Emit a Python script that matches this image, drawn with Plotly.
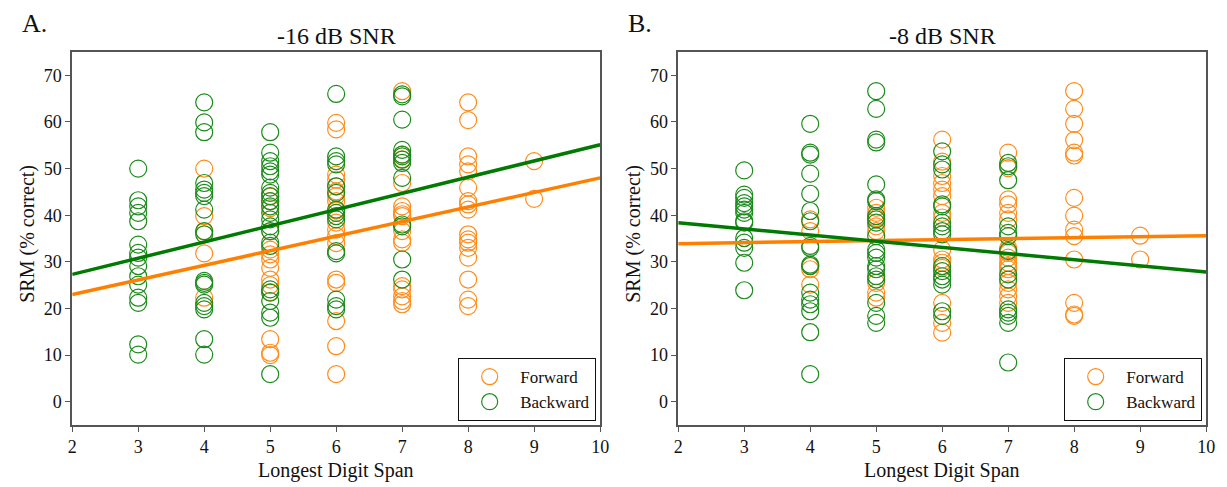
import plotly.graph_objects as go

# ---------------- data ----------------
# Panel A (-16 dB SNR): SRM values per longest digit span
A_forward = {
    4: [50, 39.8, 36.5, 31.8, 22.3],
    5: [44, 43, 41.5, 36.5, 32.6, 31.6, 30.5, 28.7, 26.2, 25, 23.5, 13.4, 10.5, 10],
    6: [59.8, 58.4, 48.7, 47.6, 46.2, 45.1, 44.1, 43, 41, 38.4, 36.9, 35.5, 34, 26.2, 25.5, 17.3, 11.9, 5.9],
    7: [66.6, 53, 52, 46.9, 41.9, 40.9, 40.2, 39.8, 36.6, 34.8, 34.1, 24.8, 24.1, 22.6, 21.6, 20.9],
    8: [64.2, 60.4, 52.6, 50.9, 49.4, 45.9, 43, 42.3, 41.2, 35.9, 34.8, 34.1, 33, 30.9, 26.2, 21.9, 20.5],
    9: [51.6, 43.5],
}
A_backward = {
    3: [50, 43.2, 41.9, 40.5, 38.7, 33.7, 31.9, 30.9, 29.1, 26.9, 25.1, 22.3, 21.2, 12.3, 10.1],
    4: [64.2, 59.9, 57.8, 46.9, 45.5, 44.8, 44.1, 41.2, 36.6, 35.9, 25.9, 25.5, 25.1, 21.2, 20.5, 19.8, 13.4, 10.1],
    5: [57.8, 53.4, 51.6, 50.5, 49.4, 48.7, 45.9, 44.8, 44.1, 43, 41.9, 40.5, 39.1, 37.6, 36.6, 34.1, 33.4,
        24.1, 23.4, 21.6, 19.1, 18, 5.9],
    6: [66, 52.6, 51.6, 50.9, 46.2, 44.8, 41.2, 40.5, 39.8, 39.1, 32.3, 31.8, 21.9, 20.5, 19.8],
    7: [65.9, 65.5, 60.5, 54, 53, 52.6, 51.9, 51.2, 48, 38, 37.6, 30.5, 26.2],
}
# Panel B (-8 dB SNR)
B_forward = {
    4: [39.1, 36.6, 29.1, 28.4, 25.1],
    5: [41.6, 40.5, 39.4, 37.6, 36.6, 25.5, 23.4, 22.3],
    6: [56.2, 51.5, 48.4, 46.9, 45.5, 44.1, 40.5, 39.5, 32.6, 30.5, 29.8, 28.7, 21.2, 16.9, 14.8],
    7: [53.4, 50.1, 43.4, 42.3, 40.5, 39.1, 33, 32.5, 31.9, 30.9, 29.8, 29.1, 28.4, 25.5, 24.1, 22.6, 21.2],
    8: [66.6, 62.8, 59.6, 56.1, 53.4, 52.8, 43.7, 39.9, 36.9, 35.5, 30.5, 21.2, 18.7, 18.4],
    9: [35.6, 30.5],
}
B_backward = {
    3: [49.6, 44.4, 43.7, 42.6, 41.9, 41.2, 40.5, 38.7, 38.4, 35.1, 34.1, 33, 29.8, 23.9],
    4: [59.6, 53.4, 53, 48.9, 44.6, 40.9, 38.7, 33.4, 33, 29.4, 29.1, 23.4, 21.9, 20.9, 19.4, 14.9, 5.9],
    5: [66.6, 62.8, 56.2, 55.6, 46.6, 43.4, 43, 39.8, 39.1, 38.4, 35.5, 32.6, 31.9, 30.9, 29.1, 28.4,
        26.9, 26.2, 21.2, 18.4, 16.9],
    6: [53.7, 50.9, 49.8, 42.3, 41.9, 38.4, 37.6, 36.6, 35.9, 29.1, 28, 26.9, 26.2, 25.1, 19.4, 18.4],
    7: [51.2, 50.5, 47.5, 37.6, 36.2, 35.5, 32.3, 27.3, 26.2, 19.8, 19.1, 18.4, 16.9, 8.4],
}

# regression lines (values at span 2 and span 10)
fit_x = [2, 10]
A_forward_fit = [23.0, 48.0]
A_backward_fit = [27.3, 55.1]
B_forward_fit = [33.9, 35.6]
B_backward_fit = [38.4, 27.8]

panel_titles = ["-16 dB SNR", "-8 dB SNR"]
panel_letters = ["A.", "B."]
x_ticks = [2, 3, 4, 5, 6, 7, 8, 9, 10]
y_ticks = [0, 10, 20, 30, 40, 50, 60, 70]

# ---------------- styles ----------------
ORANGE_M = "#FF8C1A"
GREEN_M = "#1A8A1A"
ORANGE_L = "#FF8000"
GREEN_L = "#007A00"
FONT = "Times New Roman, Liberation Serif, Times, serif"
W, H = 1227, 487


def flatten(d):
    xs, ys = [], []
    for k, vals in d.items():
        xs += [k] * len(vals)
        ys += vals
    return xs, ys


fig = go.Figure()

panels = [
    ("x", "y", "legend", A_forward, A_backward, A_forward_fit, A_backward_fit),
    ("x2", "y2", "legend2", B_forward, B_backward, B_forward_fit, B_backward_fit),
]
for xa, ya, leg, fwd, bwd, ffit, bfit in panels:
    fx, fy = flatten(fwd)
    bx, by = flatten(bwd)
    fig.add_trace(go.Scatter(x=fx, y=fy, mode="markers", name="Forward", xaxis=xa, yaxis=ya,
                             legend=leg,
                             marker=dict(symbol="circle-open", size=17, color=ORANGE_M,
                                         line=dict(width=1.2, color=ORANGE_M))))
    fig.add_trace(go.Scatter(x=bx, y=by, mode="markers", name="Backward", xaxis=xa, yaxis=ya,
                             legend=leg,
                             marker=dict(symbol="circle-open", size=17, color=GREEN_M,
                                         line=dict(width=1.2, color=GREEN_M))))
    fig.add_trace(go.Scatter(x=fit_x, y=ffit, mode="lines", showlegend=False, xaxis=xa, yaxis=ya,
                             line=dict(color=ORANGE_L, width=3.5), hoverinfo="skip"))
    fig.add_trace(go.Scatter(x=fit_x, y=bfit, mode="lines", showlegend=False, xaxis=xa, yaxis=ya,
                             line=dict(color=GREEN_L, width=3.5), hoverinfo="skip"))

# plot-area geometry (pixels)
left_A, right_A = 68, 602
left_B, right_B = 681, 1215
top_px, bot_px = 52, 425
ydom = [1 - bot_px / H, 1 - top_px / H]

axis_common = dict(showline=True, linecolor="#555555", linewidth=1.5, mirror=True,
                   ticks="outside", ticklen=5, tickwidth=1.2, tickcolor="#555555",
                   showgrid=False, zeroline=False,
                   tickfont=dict(family=FONT, size=18, color="#111111"))

fig.update_layout(
    width=W, height=H,
    margin=dict(l=0, r=0, t=0, b=0),
    paper_bgcolor="white", plot_bgcolor="white",
    font=dict(family=FONT, color="#111111"),
    xaxis=dict(domain=[left_A / W, right_A / W], range=[2, 10], tickvals=x_ticks, anchor="y", **axis_common),
    yaxis=dict(domain=ydom, range=[-5, 75], tickvals=y_ticks, anchor="x", **axis_common),
    xaxis2=dict(domain=[left_B / W, right_B / W], range=[2, 10], tickvals=x_ticks, anchor="y2", **axis_common),
    yaxis2=dict(domain=ydom, range=[-5, 75], tickvals=y_ticks, anchor="x2", **axis_common),
    legend=dict(x=598 / W, y=1 - 421 / H, xanchor="right", yanchor="bottom",
                bordercolor="#111111", borderwidth=1, bgcolor="white", itemwidth=51,
                font=dict(family=FONT, size=17, color="#111111")),
    legend2=dict(x=1211 / W, y=1 - 421 / H, xanchor="right", yanchor="bottom",
                 bordercolor="#111111", borderwidth=1, bgcolor="white", itemwidth=51,
                 font=dict(family=FONT, size=17, color="#111111")),
    showlegend=True,
)

annotations = []
for i, (l, r) in enumerate([(left_A, right_A), (left_B, right_B)]):
    cx = (l + r) / 2
    annotations.append(dict(text=panel_titles[i], x=cx / W, y=1 - 36 / H, xref="paper", yref="paper",
                            xanchor="center", yanchor="middle", showarrow=False,
                            font=dict(family=FONT, size=24, color="#111111")))
    annotations.append(dict(text=panel_letters[i], x=(l - 53) / W, y=1 - 24 / H, xref="paper", yref="paper",
                            xanchor="left", yanchor="middle", showarrow=False,
                            font=dict(family=FONT, size=26, color="#111111")))
    annotations.append(dict(text="Longest Digit Span", x=cx / W, y=1 - 470 / H, xref="paper", yref="paper",
                            xanchor="center", yanchor="middle", showarrow=False,
                            font=dict(family=FONT, size=20, color="#111111")))
    annotations.append(dict(text="SRM (% correct)", x=(l - 46) / W, y=1 - 234 / H, xref="paper",
                            yref="paper", xanchor="center", yanchor="middle", showarrow=False,
                            textangle=-90, font=dict(family=FONT, size=20, color="#111111")))
fig.update_layout(annotations=annotations)

fig.write_html("out.html")
